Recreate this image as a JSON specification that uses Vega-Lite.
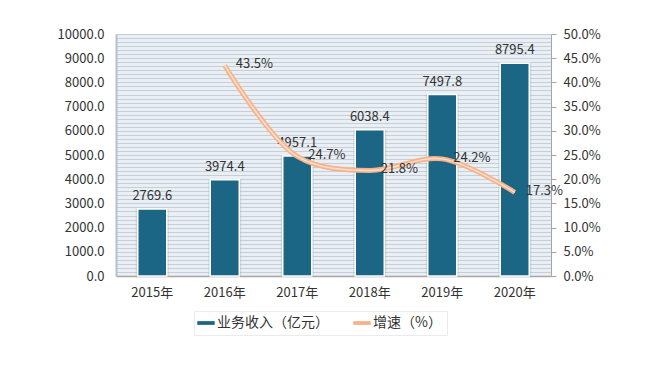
{
  "$schema": "https://vega.github.io/schema/vega-lite/v6.json",
  "autosize": {"type": "none"},
  "width": 435,
  "height": 242,
  "padding": {"left": 116, "top": 34, "right": 97, "bottom": 90},
  "background": "#ffffff",
  "config": {
    "font": "Noto Sans CJK SC",
    "view": {"fill": "#e9eff5", "stroke": null},
    "axis": {"labelFont": "Noto Sans CJK SC", "labelColor": "#333333", "labelFontSize": 13, "labelOverlap": false}
  },
  "data": {
    "values": [
      {"year": "2015年", "revenue": 2769.6, "growth": null, "growthLabel": ""},
      {"year": "2016年", "revenue": 3974.4, "growth": 43.5, "growthLabel": "43.5%"},
      {"year": "2017年", "revenue": 4957.1, "growth": 24.7, "growthLabel": "24.7%"},
      {"year": "2018年", "revenue": 6038.4, "growth": 21.8, "growthLabel": "21.8%"},
      {"year": "2019年", "revenue": 7497.8, "growth": 24.2, "growthLabel": "24.2%"},
      {"year": "2020年", "revenue": 8795.4, "growth": 17.3, "growthLabel": "17.3%"}
    ]
  },
  "encoding": {
    "x": {
      "field": "year",
      "type": "nominal",
      "sort": null,
      "scale": {"paddingInner": 0.6, "paddingOuter": 0.3},
      "axis": {
        "title": null,
        "labelAngle": 0,
        "ticks": false,
        "domainColor": "#a6a6a6",
        "domainWidth": 1.5,
        "labelPadding": 10,
        "labelFontSize": 13
      }
    }
  },
  "layer": [
    {
      "layer": [
        {
          "mark": {"type": "bar", "size": 33, "color": "#9aa3aa", "opacity": 0.3},
          "encoding": {
            "y": {
              "field": "revenue",
              "type": "quantitative",
              "scale": {"domain": [0, 10000], "nice": false},
              "axis": {
                "title": null,
                "tickCount": 200,
                "values": [0,166.67,333.33,500,666.67,833.33,1000,1166.67,1333.33,1500,1666.67,1833.33,2000,2166.67,2333.33,2500,2666.67,2833.33,3000,3166.67,3333.33,3500,3666.67,3833.33,4000,4166.67,4333.33,4500,4666.67,4833.33,5000,5166.67,5333.33,5500,5666.67,5833.33,6000,6166.67,6333.33,6500,6666.67,6833.33,7000,7166.67,7333.33,7500,7666.67,7833.33,8000,8166.67,8333.33,8500,8666.67,8833.33,9000,9166.67,9333.33,9500,9666.67,9833.33,10000],
                "labelExpr": "datum.value % 1000 === 0 ? format(datum.value, '.1f') : ''",
                "labelOverlap": false,
                "labelFlush": false,
                "ticks": false,
                "grid": true,
                "gridColor": "#c6ced6",
                "gridWidth": 1,
                "domain": true,
                "domainColor": "#b8bfc6",
                "domainWidth": 2,
                "labelPadding": 12
              }
            }
          }
        },
        {
          "mark": {"type": "bar", "size": 29, "stroke": "#ffffff", "strokeWidth": 1.5},
          "encoding": {
            "y": {"field": "revenue", "type": "quantitative"},
            "color": {
              "datum": "业务收入（亿元）",
              "type": "nominal",
              "scale": {"domain": ["业务收入（亿元）", "增速（%）"], "range": ["#1b6585", "#f7b28c"]},
              "legend": {
                "title": null,
                "orient": "none",
                "legendX": 78,
                "legendY": 277,
                "direction": "horizontal",
                "symbolType": "M-1.3,-0.28H1.3V0.28H-1.3Z",
                "symbolSize": 180,
                "symbolStrokeWidth": 0,
                "labelFontSize": 14,
                "labelColor": "#333333",
                "columnPadding": 24,
                "padding": 5,
                "fillColor": "#ffffff",
                "strokeColor": "#ebebeb"
              }
            }
          }
        },
        {
          "mark": {"type": "text", "baseline": "bottom", "dy": -6, "fontSize": 13, "color": "#333333"},
          "encoding": {
            "y": {"field": "revenue", "type": "quantitative"},
            "text": {"field": "revenue", "type": "quantitative", "format": ".1f"}
          }
        }
      ]
    },
    {
      "layer": [
        {
          "mark": {"type": "line", "interpolate": "catmull-rom", "strokeWidth": 5},
          "encoding": {
            "y": {
              "field": "growth",
              "type": "quantitative",
              "scale": {"domain": [0, 50], "nice": false},
              "axis": {
                "title": null,
                "orient": "right",
                "tickCount": 50,
                "values": [0, 5, 10, 15, 20, 25, 30, 35, 40, 45, 50],
                "labelExpr": "format(datum.value, '.1f') + '%'",
                "labelOverlap": false,
                "labelFlush": false,
                "grid": false,
                "ticks": true,
                "tickSize": 5,
                "tickColor": "#a6a6a6",
                "domainColor": "#a6a6a6",
                "labelPadding": 7
              }
            },
            "color": {"datum": "增速（%）", "type": "nominal"}
          }
        },
        {
          "mark": {"type": "line", "interpolate": "catmull-rom", "strokeWidth": 1.5, "color": "#fde0cd"},
          "encoding": {
            "y": {"field": "growth", "type": "quantitative"}
          }
        },
        {
          "mark": {"type": "text", "align": "left", "dx": 11, "dy": -1, "fontSize": 13, "color": "#333333"},
          "encoding": {
            "y": {"field": "growth", "type": "quantitative"},
            "text": {"field": "growthLabel", "type": "nominal"}
          }
        }
      ]
    }
  ],
  "resolve": {"scale": {"y": "independent"}}
}
